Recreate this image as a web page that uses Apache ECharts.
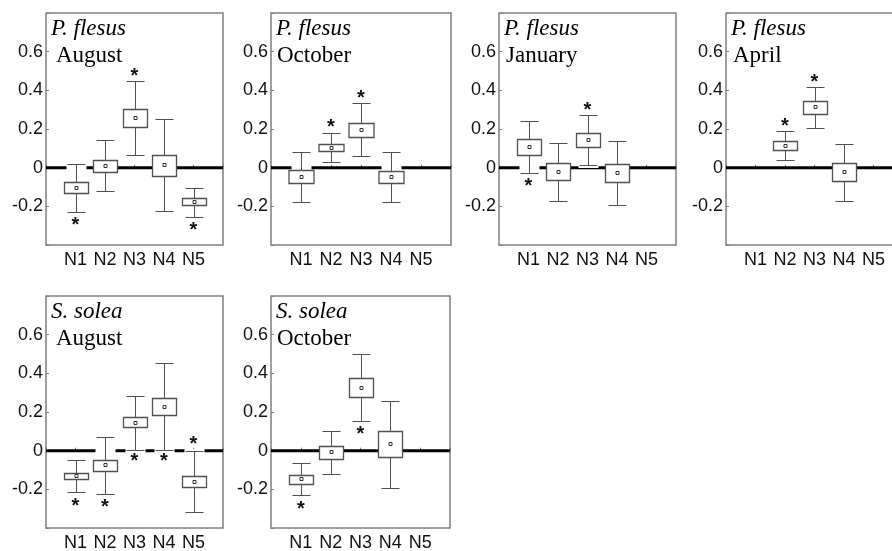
<!DOCTYPE html>
<html><head><meta charset="utf-8">
<script src="https://cdn.jsdelivr.net/npm/echarts@6/dist/echarts.min.js"></script>
<style>html,body{margin:0;padding:0;background:#fff}#c{width:892px;height:551px}</style>
</head><body><div id="c"></div>
<script>
// ---------- data ----------
const categories = ['N1', 'N2', 'N3', 'N4', 'N5'];
const speciesNames = ['P. flesus', 'P. flesus', 'P. flesus', 'P. flesus', 'S. solea', 'S. solea'];
const monthNames = ['August', 'October', 'January', 'April', 'August', 'October'];
const yTickValues = [-0.2, 0, 0.2, 0.4, 0.6];

// each box: [whiskerLow, boxLow, mean, boxHigh, whiskerHigh] per category (null = none)
const pfAugust = [
  [-0.230, -0.133, -0.104, -0.075, 0.019],
  [-0.123, -0.021, 0.010, 0.042, 0.142],
  [0.066, 0.211, 0.258, 0.305, 0.449],
  [-0.225, -0.045, 0.016, 0.064, 0.251],
  [-0.253, -0.194, -0.175, -0.158, -0.104]
];
const pfOctober = [
  [-0.179, -0.078, -0.047, -0.012, 0.083],
  [0.029, 0.085, 0.104, 0.121, 0.177],
  [0.061, 0.159, 0.196, 0.230, 0.334],
  [-0.179, -0.080, -0.049, -0.016, 0.083],
  null
];
const pfJanuary = [
  [-0.029, 0.066, 0.106, 0.146, 0.239],
  [-0.170, -0.064, -0.021, 0.023, 0.127],
  [0.012, 0.107, 0.142, 0.180, 0.270],
  [-0.191, -0.075, -0.028, 0.019, 0.137],
  null
];
const pfApril = [
  null,
  [0.038, 0.090, 0.114, 0.139, 0.191],
  [0.205, 0.277, 0.312, 0.345, 0.418],
  [-0.170, -0.071, -0.024, 0.023, 0.121],
  null
];
const ssAugust = [
  [-0.214, -0.148, -0.132, -0.115, -0.049],
  [-0.226, -0.104, -0.075, -0.047, 0.073],
  [0.003, 0.120, 0.143, 0.172, 0.285],
  [0.003, 0.186, 0.228, 0.272, 0.454],
  [-0.317, -0.190, -0.160, -0.131, 0.000]
];
const ssOctober = [
  [-0.230, -0.171, -0.146, -0.125, -0.064],
  [-0.120, -0.042, -0.007, 0.026, 0.103],
  [0.153, 0.277, 0.326, 0.376, 0.498],
  [-0.193, -0.031, 0.033, 0.101, 0.259],
  null
];

// significance asterisks: [category, y position]
const pfAugustStars = [['N1', -0.280], ['N3', 0.494], ['N5', -0.303]];
const pfOctoberStars = [['N2', 0.230], ['N3', 0.378]];
const pfJanuaryStars = [['N1', -0.078], ['N3', 0.314]];
const pfAprilStars = [['N2', 0.234], ['N3', 0.461]];
const ssAugustStars = [['N1', -0.268], ['N2', -0.275], ['N3', -0.037], ['N4', -0.037], ['N5', 0.054]];
const ssOctoberStars = [['N1', -0.284], ['N3', 0.103]];

const panelBoxes = [pfAugust, pfOctober, pfJanuary, pfApril, ssAugust, ssOctober];
const panelStars = [pfAugustStars, pfOctoberStars, pfJanuaryStars, pfAprilStars, ssAugustStars, ssOctoberStars];

// ---------- layout / style ----------
const panelRects = [
  {left: 46, top: 13, width: 177},
  {left: 271, top: 13, width: 180},
  {left: 499, top: 13, width: 177},
  {left: 726, top: 13, width: 177},
  {left: 46, top: 296, width: 177},
  {left: 271, top: 296, width: 179}
];
const monthIndent = [10, 6, 7, 7, 10, 6];
const gridHeight = 232;
const axisCats = [''].concat(categories, ['']);
const SANS = '"Liberation Sans", Arial, sans-serif';
const SERIF = '"Liberation Serif", "Times New Roman", serif';
const LINE = '#505050';

function catIndex(name) { return axisCats.indexOf(name); }

function renderBox(params, api) {
  const xi = api.value(0);
  const lo = api.coord([xi, api.value(1)]);
  const q1 = api.coord([xi, api.value(2)]);
  const mn = api.coord([xi, api.value(3)]);
  const q3 = api.coord([xi, api.value(4)]);
  const hi = api.coord([xi, api.value(5)]);
  const band = api.size([1, 0])[0];
  const bw = Math.round(band * 0.82);
  const cw = Math.round(band * 0.6);
  const cx = Math.round(lo[0]) + 0.5;
  const yLo = Math.round(lo[1]) + 0.5, yHi = Math.round(hi[1]) + 0.5;
  const yQ1 = Math.round(q1[1]) + 0.5, yQ3 = Math.round(q3[1]) + 0.5;
  const ls = {stroke: LINE, lineWidth: 1};
  return {
    type: 'group',
    children: [
      {type: 'rect', shape: {x: cx - cw / 2 - 1, y: yHi - 2.5, width: cw + 2, height: yLo - yHi + 5}, style: {fill: '#fff'}},
      {type: 'line', shape: {x1: cx, y1: yHi, x2: cx, y2: yLo}, style: ls},
      {type: 'line', shape: {x1: cx - cw / 2, y1: yHi, x2: cx + cw / 2, y2: yHi}, style: ls},
      {type: 'line', shape: {x1: cx - cw / 2, y1: yLo, x2: cx + cw / 2, y2: yLo}, style: ls},
      {type: 'rect', shape: {x: cx - bw / 2, y: yQ3, width: bw, height: yQ1 - yQ3}, style: {fill: '#fff', stroke: LINE, lineWidth: 1.3}},
      {type: 'rect', shape: {x: cx - 1.5, y: Math.round(mn[1]) - 1.5, width: 3, height: 3}, style: {fill: '#fff', stroke: '#333', lineWidth: 1}}
    ]
  };
}

function renderStar(params, api) {
  const p = api.coord([api.value(0), api.value(1)]);
  return {
    type: 'text', x: p[0], y: p[1] + 4,
    style: {text: '*', font: 'bold 20px ' + SANS, fill: '#111', align: 'center', verticalAlign: 'middle'}
  };
}

const grids = [], xAxes = [], yAxes = [], series = [], graphics = [];
panelRects.forEach((r, i) => {
  grids.push({left: r.left, top: r.top, width: r.width, height: gridHeight, show: true,
    borderColor: '#808080', borderWidth: 1.5, backgroundColor: 'transparent',
    containLabel: false, outerBoundsMode: 'none'});
  xAxes.push({type: 'category', gridIndex: i, data: axisCats, boundaryGap: false,
    axisLine: {show: false},
    axisTick: {show: true, inside: true, length: 3, lineStyle: {color: '#808080'}},
    axisLabel: {show: true, interval: 0, margin: 6, color: '#111', fontFamily: SANS, fontSize: 18},
    splitLine: {show: false}});
  yAxes.push({type: 'value', gridIndex: i, min: -0.4, max: 0.8, interval: 0.2,
    axisLine: {show: false},
    axisTick: {show: true, inside: true, length: 3, lineStyle: {color: '#808080'}},
    axisLabel: {show: true, margin: 3, color: '#111', fontFamily: SANS, fontSize: 18,
      formatter: v => {
        const r = Math.round(v * 10) / 10;
        if (!yTickValues.some(t => Math.abs(t - r) < 1e-9)) return '';
        return r === 0 ? '0' : r.toFixed(1);
      }},
    splitLine: {show: false}});
  series.push({type: 'line', xAxisIndex: i, yAxisIndex: i, data: axisCats.map(() => 0),
    symbol: 'none', silent: true, z: 1, lineStyle: {color: '#000', width: 3}});
  const boxData = [];
  panelBoxes[i].forEach((b, k) => { if (b) boxData.push([k + 1].concat(b)); });
  series.push({type: 'custom', xAxisIndex: i, yAxisIndex: i, z: 3, silent: true,
    renderItem: renderBox, data: boxData, encode: {x: 0, y: [1, 2, 3, 4, 5]}});
  series.push({type: 'custom', xAxisIndex: i, yAxisIndex: i, z: 4, silent: true,
    renderItem: renderStar, data: panelStars[i].map(s => [catIndex(s[0]), s[1]]), encode: {x: 0, y: 1}});
  graphics.push({type: 'text', x: r.left + 5, y: r.top + 4, z: 10,
    style: {text: speciesNames[i], font: 'italic 23px ' + SERIF, fill: '#000'}});
  graphics.push({type: 'text', x: r.left + monthIndent[i], y: r.top + 31, z: 10,
    style: {text: monthNames[i], font: '23px ' + SERIF, fill: '#000'}});
});

const chart = echarts.init(document.getElementById('c'), null, {renderer: 'canvas'});
chart.setOption({
  animation: false,
  backgroundColor: '#fff',
  grid: grids, xAxis: xAxes, yAxis: yAxes, series: series, graphic: graphics
});
</script></body></html>
